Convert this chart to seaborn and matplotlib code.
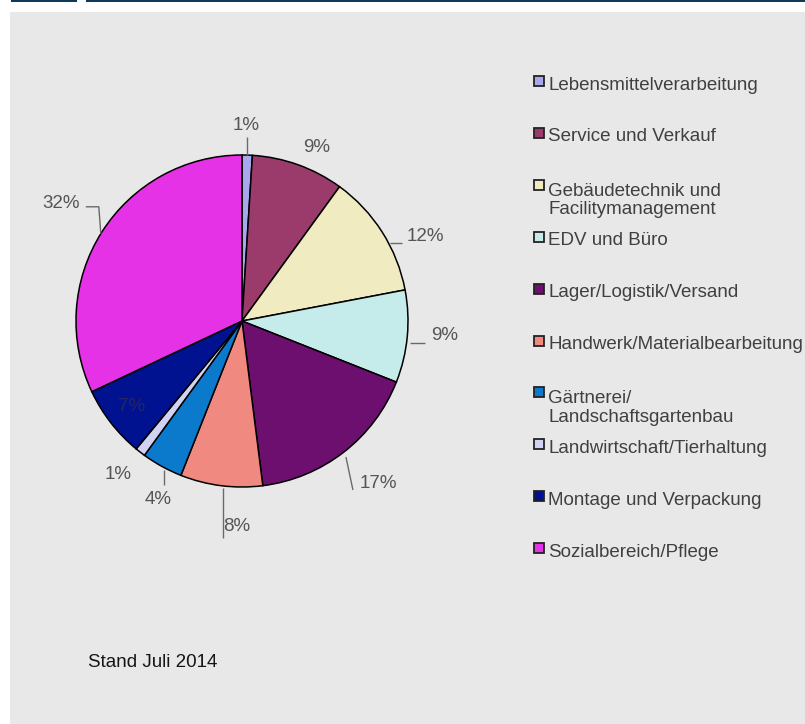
import matplotlib
matplotlib.use("Agg")
import matplotlib.pyplot as plt
from matplotlib.patches import Rectangle
import numpy as np
import seaborn as sns

# ---- data ----
categories = [
    "Lebensmittelverarbeitung",
    "Service und Verkauf",
    "Gebäudetechnik und\nFacilitymanagement",
    "EDV und Büro",
    "Lager/Logistik/Versand",
    "Handwerk/Materialbearbeitung",
    "Gärtnerei/\nLandschaftsgartenbau",
    "Landwirtschaft/Tierhaltung",
    "Montage und Verpackung",
    "Sozialbereich/Pflege",
]
shares = [1, 9, 12, 9, 17, 8, 4, 1, 7, 32]
colors = ["#a8a8ee", "#9b3b6b", "#f1ebc2", "#c6ebeb", "#6c0f6e",
          "#f08a80", "#0b79cc", "#d2d2f2", "#001290", "#e632e6"]
footnote = "Stand Juli 2014"

# ---- style ----
sns.set_theme(style="white")
plt.rcParams["font.family"] = ["Liberation Sans", "DejaVu Sans"]

W, H = 805, 724
fig = plt.figure(figsize=(W / 100, H / 100), dpi=100, facecolor="white")

def fx(px):
    return px / W

def fy(py):
    return 1 - py / H

# background panel and top rules
fig.patches.append(Rectangle((fx(10), 0), fx(W - 10), fy(12), transform=fig.transFigure,
                             facecolor="#e8e8e8", edgecolor="none", zorder=-2))
for x0, x1 in [(11, 77), (86, 805)]:
    fig.patches.append(Rectangle((fx(x0), fy(2)), fx(x1 - x0), 2 / H, transform=fig.transFigure,
                                 facecolor="#0d3a5a", edgecolor="none", zorder=-1))

# pie axes: centre (242, 321) px, radius 166 px
R = 166.0
cx, cy = 242.0, 321.0
lim = 1.4
side = 2 * lim * R
ax = fig.add_axes([fx(cx - side / 2), fy(cy + side / 2), side / W, side / H])
ax.set_facecolor("none")
ax.set_zorder(1)

wedges, _ = ax.pie(shares, colors=colors, startangle=90, counterclock=False,
                   wedgeprops=dict(edgecolor="black", linewidth=1.1))
ax.set_xlim(-lim, lim)
ax.set_ylim(-lim, lim)
ax.set_aspect("equal")
ax.axis("off")

# label placement (radius factor, angle shift in degrees)
label_dist = [1.18, 1.14, 1.22, 1.226, 1.274, 1.241, 1.19, 1.19, 0.84, 1.30]
label_shift = [0.5, -3.5, -7.6, 1.2, 2.2, 5.8, 3.6, -1.0, 0.0, -0.5]
# leader lines: offsets in px from the label centre (x right, y down)
leaders = [
    [(1, 12), (1, 30)],
    None,
    [(-36, 7), (-24, 7)],
    [(-35, 7), (-20, 7)],
    [(-32, -26), (-25, 7)],
    [(-14, -39), (-14, 11)],
    [(6, -30), (6, -15)],
    None,
    None,
    [(25, 3), (38, 3), (40, 30)],
]

for w, v, d, s, ld in zip(wedges, shares, label_dist, label_shift, leaders):
    ang = np.deg2rad((w.theta1 + w.theta2) / 2 + s)
    lx, ly = d * np.cos(ang), d * np.sin(ang)
    inside = d < 1
    ax.text(lx, ly, f"{v}%", ha="center", va="center", fontsize=13.5,
            color="#262660" if inside else "#555555", zorder=5, clip_on=False)
    if ld:
        xs = [lx + ox / R for ox, oy in ld]
        ys = [ly - oy / R for ox, oy in ld]
        ax.plot(xs, ys, color="#6a6a6a", lw=1.0, solid_capstyle="butt", zorder=4, clip_on=False)

# legend (manual, to mirror the irregular multi-line layout)
y0, step = 83.0, 51.9
line_px = 21.0
for i, (lab, col) in enumerate(zip(categories, colors)):
    yc = y0 + i * step
    extra = lab.count("\n") * line_px
    fig.patches.append(Rectangle((fx(534), fy(yc + 3)), 10 / W, 10 / H,
                                 transform=fig.transFigure, facecolor=col,
                                 edgecolor="#222222", linewidth=1.3, zorder=3))
    fig.text(fx(548), fy(yc + 6.5 + extra), lab, ha="left", va="baseline", fontsize=13.5,
             color="#404040", linespacing=1.12)

fig.text(fx(88), fy(667), footnote, ha="left", va="baseline", fontsize=13.5, color="#151515")

fig.savefig("out.png", dpi=100, facecolor="white")
